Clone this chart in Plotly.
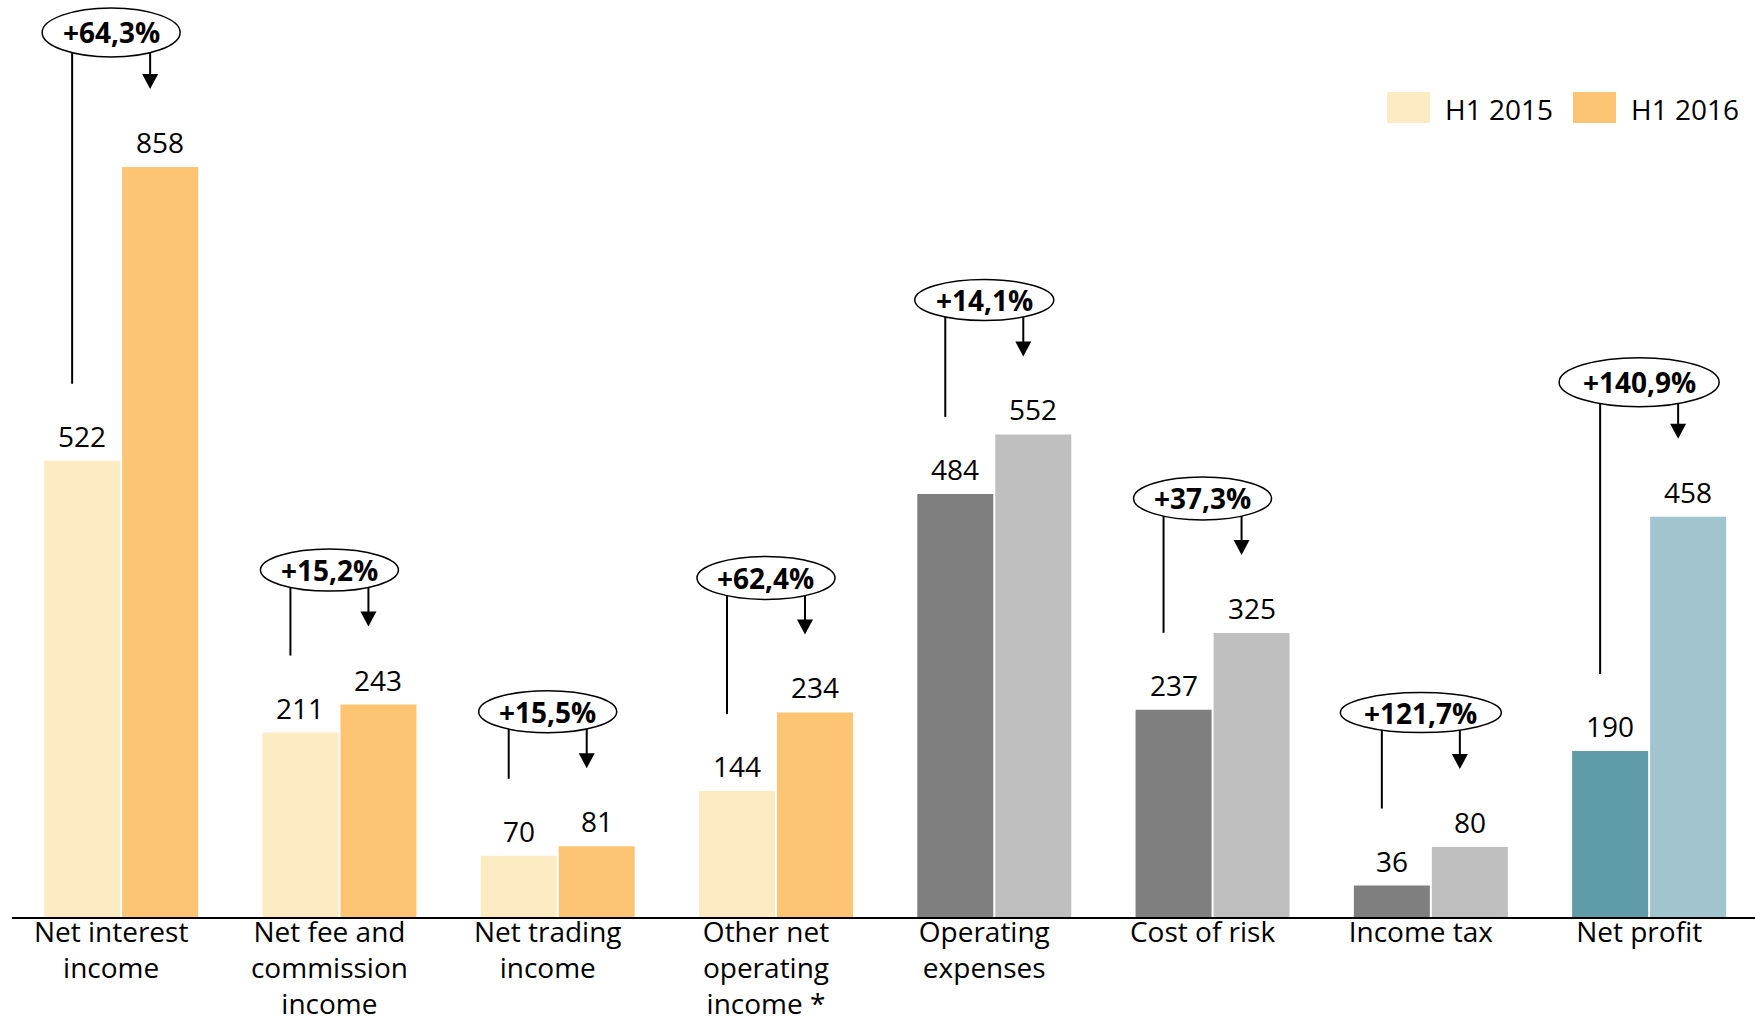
import plotly.graph_objects as go

# ---- data -------------------------------------------------------------
categories = [
    "Net interest<br>income",
    "Net fee and<br>commission<br>income",
    "Net trading<br>income",
    "Other net<br>operating<br>income *",
    "Operating<br>expenses",
    "Cost of risk",
    "Income tax",
    "Net profit",
]
h1_2015 = [522, 211, 70, 144, 484, 237, 36, 190]
h1_2016 = [858, 243, 81, 234, 552, 325, 80, 458]
changes = ["+64,3%", "+15,2%", "+15,5%", "+62,4%", "+14,1%", "+37,3%", "+121,7%", "+140,9%"]
series_names = ["H1 2015", "H1 2016"]

# ---- styling ----------------------------------------------------------
colors_2015 = ["#FDEBC3"] * 4 + ["#7F7F7F"] * 3 + ["#5F9CA8"]
colors_2016 = ["#FDC573"] * 4 + ["#BFBFBF"] * 3 + ["#A2C4CE"]
legend_colors = ["#FDEBC3", "#FDC573"]
bubble_w = [138, 138, 138, 138, 139, 138, 161, 160]   # ellipse widths, px
bubble_h = [49, 42, 42, 43, 41, 43, 40, 49]           # ellipse heights, px

FONT = "Open Sans"
W, H = 1755, 1021
ML, MR, MT, MB = 12, 0, 0, 104
XR = [-0.5, 7.485]
YR = [0, 1049]

px_x = (W - ML - MR) / (XR[1] - XR[0])   # pixels per category unit
px_y = (H - MT - MB) / (YR[1] - YR[0])   # pixels per value unit


def dx(p):
    return p / px_x


def dy(p):
    return p / px_y


bar_w = dx(76)
off1 = -dx(77)
off2 = dx(1)
xs = list(range(len(categories)))

fig = go.Figure()
fig.add_trace(go.Bar(x=xs, y=h1_2015, name=series_names[0], width=bar_w, offset=off1,
                     marker=dict(color=colors_2015, line=dict(width=0)), showlegend=False))
fig.add_trace(go.Bar(x=xs, y=h1_2016, name=series_names[1], width=bar_w, offset=off2,
                     marker=dict(color=colors_2016, line=dict(width=0)), showlegend=False))

shapes = []
annotations = []

for i, (v1, v2, txt) in enumerate(zip(h1_2015, h1_2016, changes)):
    c1 = i + off1 + bar_w / 2
    c2 = i + off2 + bar_w / 2
    # value labels above bars
    for cx, v in ((c1, v1), (c2, v2)):
        annotations.append(dict(x=cx, y=v, text=str(v), showarrow=False, yanchor="middle",
                                yshift=25, font=dict(family=FONT, size=28, color="#000000")))

    eh = bubble_h[i]
    ew = bubble_w[i]
    ecx = i - dx(10)
    ecy = v2 + dy(134.5)

    # connector from the H1 2015 bar up to the bubble
    lx = i - dx(49)
    shapes.append(dict(type="line", xref="x", yref="y", x0=lx, x1=lx,
                       y0=v1 + dy(77), y1=ecy, line=dict(color="#000000", width=2), layer="above"))
    # arrow from the bubble down to the H1 2016 bar
    ax_ = i + dx(29)
    tip = v2 + dy(78)
    head_h, head_w = 15, 16
    shapes.append(dict(type="line", xref="x", yref="y", x0=ax_, x1=ax_,
                       y0=tip + dy(head_h - 1), y1=ecy, line=dict(color="#000000", width=2),
                       layer="above"))
    shapes.append(dict(type="path", xref="x", yref="y",
                       path=(f"M {ax_ - dx(head_w / 2)},{tip + dy(head_h)} "
                             f"L {ax_ + dx(head_w / 2)},{tip + dy(head_h)} L {ax_},{tip} Z"),
                       fillcolor="#000000", line=dict(color="#000000", width=0), layer="above"))
    # bubble with the change
    shapes.append(dict(type="circle", xref="x", yref="y",
                       x0=ecx - dx(ew / 2), x1=ecx + dx(ew / 2),
                       y0=ecy - dy(eh / 2), y1=ecy + dy(eh / 2),
                       fillcolor="#FFFFFF", line=dict(color="#000000", width=1.5), layer="above"))
    annotations.append(dict(x=ecx, y=ecy, text=f"<b>{txt}</b>", showarrow=False,
                            xanchor="center", yanchor="middle",
                            font=dict(family=FONT, size=28, color="#000000")))


# ---- legend (drawn in paper space) ------------------------------------
def px_to_paper_x(p):
    return (p - ML) / (W - ML - MR)


def px_to_paper_y(p):
    return (H - MB - p) / (H - MT - MB)


legend_items = [(1387, 1443), (1573, 1629)]
for (sx, tx), name, col in zip(legend_items, series_names, legend_colors):
    shapes.append(dict(type="rect", xref="paper", yref="paper",
                       x0=px_to_paper_x(sx), x1=px_to_paper_x(sx + 43),
                       y0=px_to_paper_y(123), y1=px_to_paper_y(92),
                       fillcolor=col, line=dict(width=0)))
    annotations.append(dict(xref="paper", yref="paper", x=px_to_paper_x(tx), y=px_to_paper_y(109),
                            text=name, showarrow=False, xanchor="left", yanchor="middle",
                            font=dict(family=FONT, size=28, color="#000000")))

fig.update_layout(
    width=W, height=H,
    margin=dict(l=ML, r=MR, t=MT, b=MB, pad=0, autoexpand=False),
    paper_bgcolor="#FFFFFF", plot_bgcolor="#FFFFFF",
    barmode="overlay",
    shapes=shapes,
    annotations=annotations,
    font=dict(family=FONT, size=28, color="#000000"),
    xaxis=dict(range=XR, tickmode="array", tickvals=[x - dx(10) for x in xs], ticktext=categories,
               showline=True, linecolor="#000000", linewidth=2, ticks="", automargin=False,
               ticklabelstandoff=-11,
               showgrid=False, zeroline=False, fixedrange=True,
               tickfont=dict(family=FONT, size=28, color="#000000")),
    yaxis=dict(range=YR, visible=False, showgrid=False, zeroline=False, fixedrange=True,
               automargin=False),
)

fig.write_html("out.html", config={"displayModeBar": False})
